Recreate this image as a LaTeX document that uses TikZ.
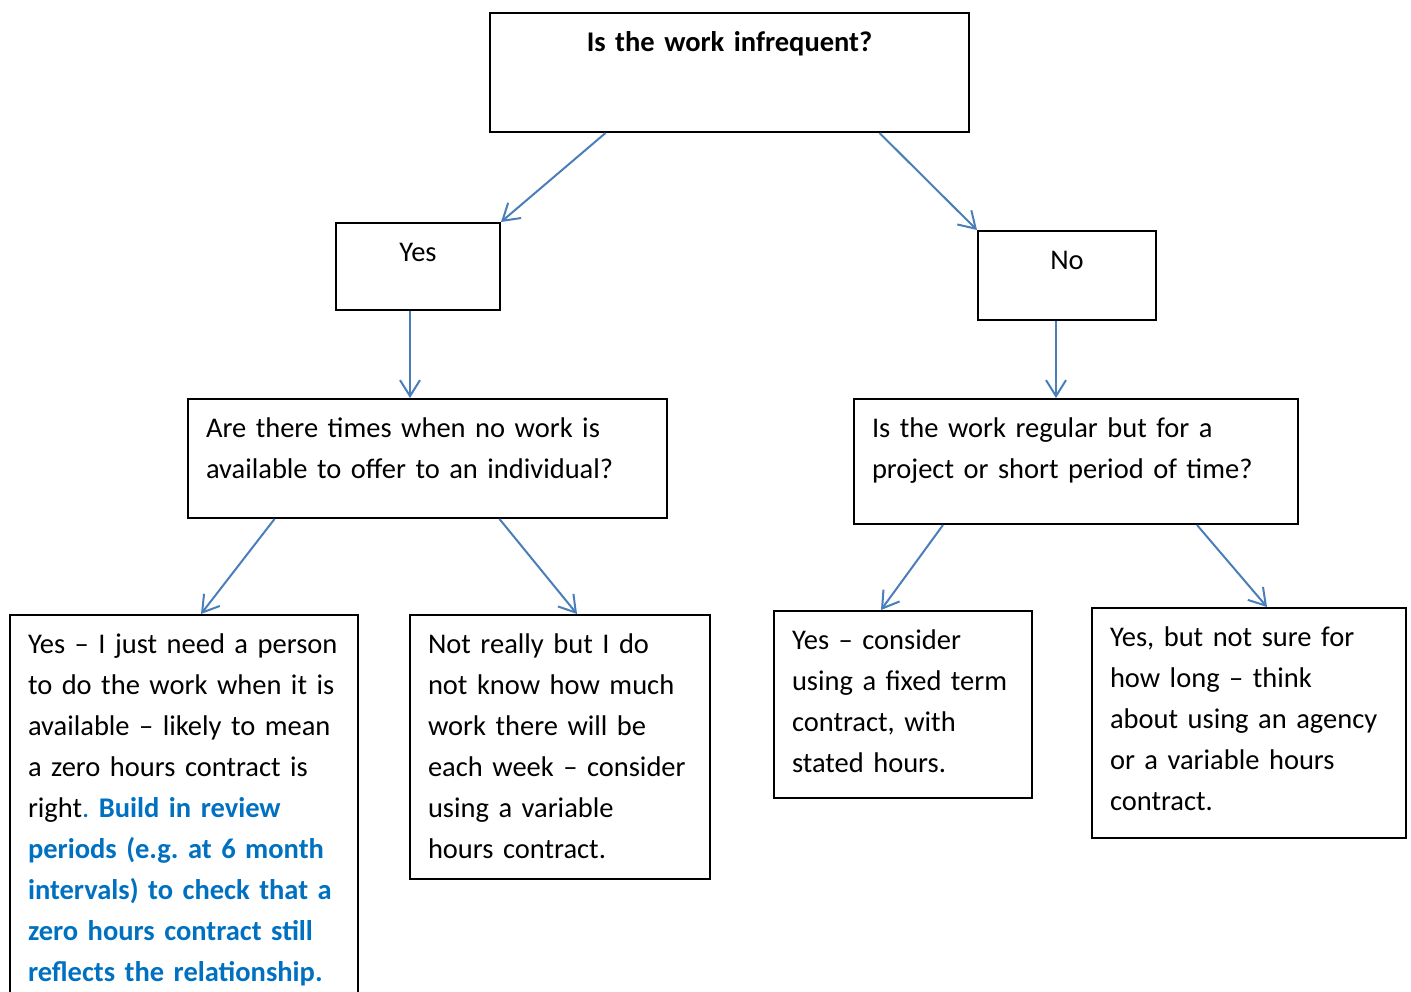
\documentclass[tikz,border=0pt]{standalone}
\usepackage{fontspec}
\setmainfont[WordSpace=0.8]{Carlito}
\usetikzlibrary{arrows.meta}
\definecolor{arrowblue}{HTML}{4A7EBB}
\definecolor{noteblue}{HTML}{0070C0}
\begin{document}
\frenchspacing
\hyphenpenalty=10000
\begin{tikzpicture}[x=1pt, y=-1pt,
	box/.style={rectangle, draw, line width=2pt, anchor=north west, inner xsep=18pt, inner ysep=7pt, text height=31pt, align=left, font=\fontsize{28.5}{41}\selectfont},
	arr/.style={draw=arrowblue, line width=2pt, -{Straight Barb[length=16pt,width=20pt]}}]
	\useasboundingbox (0,0) rectangle (1411,991);
	% question boxes
	\node (top) at (489,12) [box, align=center, text width=443pt, text depth=74pt] {\textbf{Is the work infrequent?}};
	\node (yes) at (335,222) [box, align=center, text width=128pt, text depth=42pt] {Yes};
	\node (no) at (977,230) [box, align=center, text width=142pt, text depth=44pt] {No};
	\node (q1) at (187,398) [box, text width=443pt, text depth=74pt] {Are there times when no work is\\available to offer to an individual?};
	\node (q2) at (853,398) [box, text width=408pt, text depth=80pt] {Is the work regular but for a\\project or short period of time?};
	% answer boxes
	\node (l1) at (9,614) [box, text width=312pt, text depth=355pt] {Yes -- I just need a person\\to do the work when it is\\available -- likely to mean\\a zero hours contract is\\right{\color{noteblue}. \bfseries Build in review\\periods (e.g. at 6 month\\intervals) to check that a\\zero hours contract still\\reflects the relationship.}};
	\node (l2) at (409,614) [box, text width=264pt, text depth=219pt] {Not really but I do\\not know how much\\work there will be\\each week -- consider\\using a variable\\hours contract.};
	\node (r1) at (773,610) [box, text width=222pt, text depth=142pt] {Yes -- consider\\using a fixed term\\contract, with\\stated hours.};
	\node (r2) at (1091,607) [box, text width=278pt, text depth=185pt] {Yes, but not sure for\\how long -- think\\about using an agency\\or a variable hours\\contract.};
	% arrows
	\draw[arr] ([xshift=-124pt]top.south) -- (yes.north east);
	\draw[arr] ([xshift=150pt]top.south) -- (no.north west);
	\draw[arr] ([xshift=-8pt]yes.south) -- ([xshift=-8pt]yes.south |- q1.north);
	\draw[arr] ([xshift=-11pt]no.south) -- ([xshift=-11pt]no.south |- q2.north);
	\draw[arr] ([xshift=-153pt]q1.south) -- ([xshift=17pt]l1.north);
	\draw[arr] ([xshift=72pt]q1.south) -- ([xshift=17pt]l2.north);
	\draw[arr] ([xshift=-133pt]q2.south) -- ([xshift=-22pt]r1.north);
	\draw[arr] ([xshift=121pt]q2.south) -- ([xshift=18pt]r2.north);
\end{tikzpicture}
\end{document}
